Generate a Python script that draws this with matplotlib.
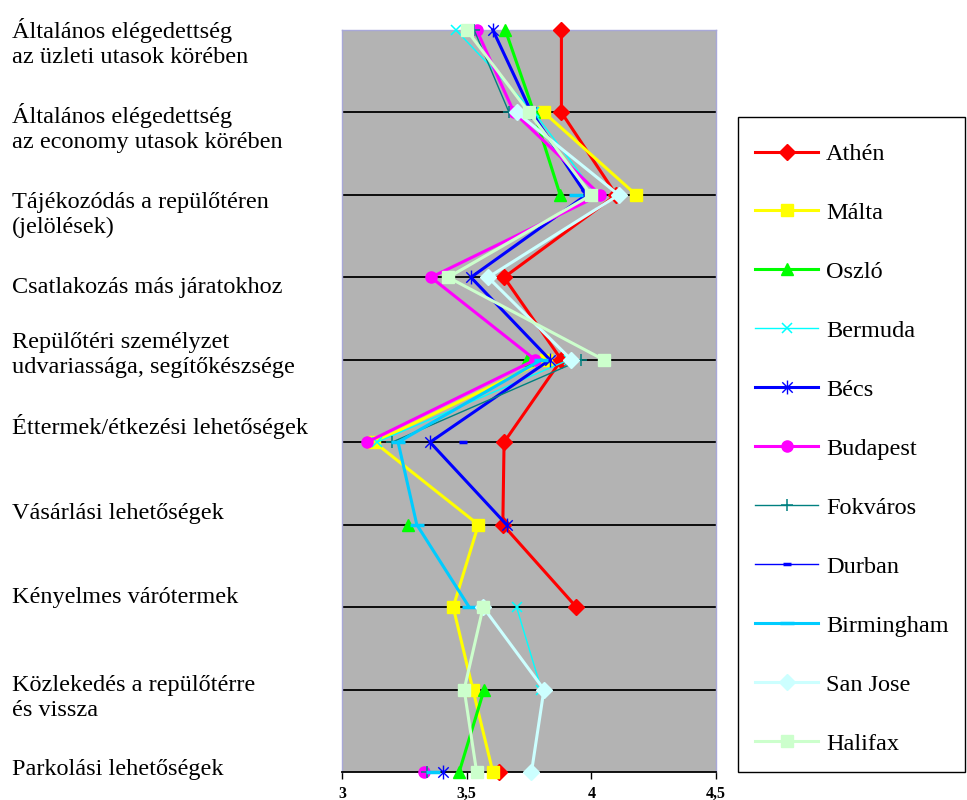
import numpy as np
import matplotlib.pyplot as plt
from matplotlib.patches import Rectangle
from matplotlib.path import Path

nan = np.nan

# Categories (top to bottom)
categories = [
    "Általános elégedettség\naz üzleti utasok körében",
    "Általános elégedettség\naz economy utasok körében",
    "Tájékozódás a repülőtéren\n(jelölések)",
    "Csatlakozás más járatokhoz",
    "Repülőtéri személyzet\nudvariassága, segítőkészsége",
    "Éttermek/étkezési lehetőségek",
    "Vásárlási lehetőségek",
    "Kényelmes várótermek",
    "Közlekedés a repülőtérre\nés vissza",
    "Parkolási lehetőségek",
]

# Values per airport (nan = no data)
athen      = [3.88, 3.88, 4.10, 3.65, 3.88, 3.65, 3.645, 3.94, nan, 3.63]
malta      = [nan, 3.81, 4.18, nan, 3.82, 3.13, 3.547, 3.446, 3.525, 3.605]
oszlo      = [3.655, 3.77, 3.875, nan, 3.74, nan, 3.266, nan, 3.57, 3.47]
bermuda    = [3.457, 3.77, 4.02, nan, 3.91, 3.14, nan, 3.70, 3.80, nan]
becs       = [3.605, 3.76, 3.98, 3.517, 3.834, 3.353, 3.66, nan, nan, 3.405]
budapest   = [3.54, 3.69, 4.035, 3.357, 3.775, 3.10, nan, nan, nan, 3.33]
fokvaros   = [3.53, 3.67, nan, nan, 3.96, 3.20, nan, nan, nan, 3.34]
durban     = [nan, nan, nan, nan, nan, 3.486, nan, nan, nan, nan]
birmingham = [nan, nan, 3.94, nan, 3.80, 3.225, 3.30, 3.51, nan, 3.365]
san_jose   = [nan, 3.70, 4.11, 3.586, 3.92, nan, nan, 3.566, 3.81, 3.76]
halifax    = [3.50, 3.75, 4.00, 3.426, 4.05, nan, nan, 3.566, 3.49, 3.54]

series_names = ["Athén", "Málta", "Oszló", "Bermuda", "Bécs", "Budapest",
                "Fokváros", "Durban", "Birmingham", "San Jose", "Halifax"]
series_values = [athen, malta, oszlo, bermuda, becs, budapest,
                 fokvaros, durban, birmingham, san_jose, halifax]

xticks = [3, 3.5, 4, 4.5]
xtick_labels = ["3", "3,5", "4", "4,5"]

# Excel style asterisk: x with a vertical bar
star = Path([(0, -1), (0, 1), (-0.75, -0.75), (0.75, 0.75), (-0.75, 0.75), (0.75, -0.75)],
            [Path.MOVETO, Path.LINETO] * 3)

# style per series: color, marker, markersize, linewidth, marker edge width
styles = [
    ("#FF0000", "D", 8, 2.2, 1),
    ("#FFFF00", "s", 8, 2.2, 1),
    ("#00FF00", "^", 9, 2.2, 1),
    ("#00FFFF", "x", 7, 1.0, 1.1),
    ("#0000FF", star, 10, 2.2, 1.0),
    ("#FF00FF", "o", 8, 2.2, 1),
    ("#008080", "+", 8, 1.0, 1.1),
    ("#0000FF", "_", 6, 1.0, 2.5),
    ("#00CCFF", "_", 10, 2.2, 2.5),
    ("#CCFFFF", "D", 8, 2.2, 1),
    ("#CCFFCC", "s", 8, 2.2, 1),
]

# label vertical centres in figure pixels
label_y_px = [43, 128, 215, 287, 355, 427, 513, 598, 698, 770]

W, H = 967, 800
fig = plt.figure(figsize=(W / 100, H / 100), dpi=100)
ax = fig.add_axes([342 / W, 28 / H, 374 / W, 742 / H])
ax.set_facecolor("#B3B3B3")

ypos = np.arange(len(categories))

# horizontal gridlines at each category
for y in ypos[1:-1]:
    ax.axhline(y, color="black", lw=1.3, zorder=1)

handles = []
for name, vals, (col, mk, ms, lw, mew) in zip(series_names, series_values, styles):
    face = "none" if isinstance(mk, Path) else col
    line, = ax.plot(vals, ypos, color=col, lw=lw, marker=mk, markersize=ms,
                    markeredgecolor=col, markerfacecolor=face, markeredgewidth=mew,
                    clip_on=False, zorder=3, label=name)
    handles.append(line)

ax.set_xlim(3, 4.5)
ax.set_ylim(len(categories) - 1, 0)
ax.set_yticks([])
ax.set_xticks(xticks)
ax.set_xticklabels(xtick_labels, fontsize=11.5, fontweight="bold", family="Liberation Serif")
ax.tick_params(axis="x", direction="out", length=5, width=1, pad=5)

for side in ("top", "left", "right"):
    ax.spines[side].set_color("#A8A8D8")
    ax.spines[side].set_linewidth(1)
ax.spines["bottom"].set_color("black")
ax.spines["bottom"].set_linewidth(1.3)

# category labels on the left
for text, ypx in zip(categories, label_y_px):
    fig.text(12 / W, 1 - ypx / H, text, ha="left", va="center",
             fontsize=17.5, family="Liberation Serif", linespacing=1.2)

# legend box drawn separately so the padding matches
fig.patches.append(Rectangle((738 / W, 1 - 772 / H), 227 / W, 655 / H,
                             transform=fig.transFigure, facecolor="white",
                             edgecolor="black", lw=1, zorder=0))

leg = fig.legend(handles=handles, loc="upper left",
                 bbox_to_anchor=(755 / W, 1 - 143 / H),
                 prop={"family": "Liberation Serif", "size": 17.5},
                 frameon=False, borderpad=0,
                 labelspacing=1.52, handlelength=2.6, handletextpad=0.33,
                 borderaxespad=0)

fig.savefig("out.png", dpi=100)
